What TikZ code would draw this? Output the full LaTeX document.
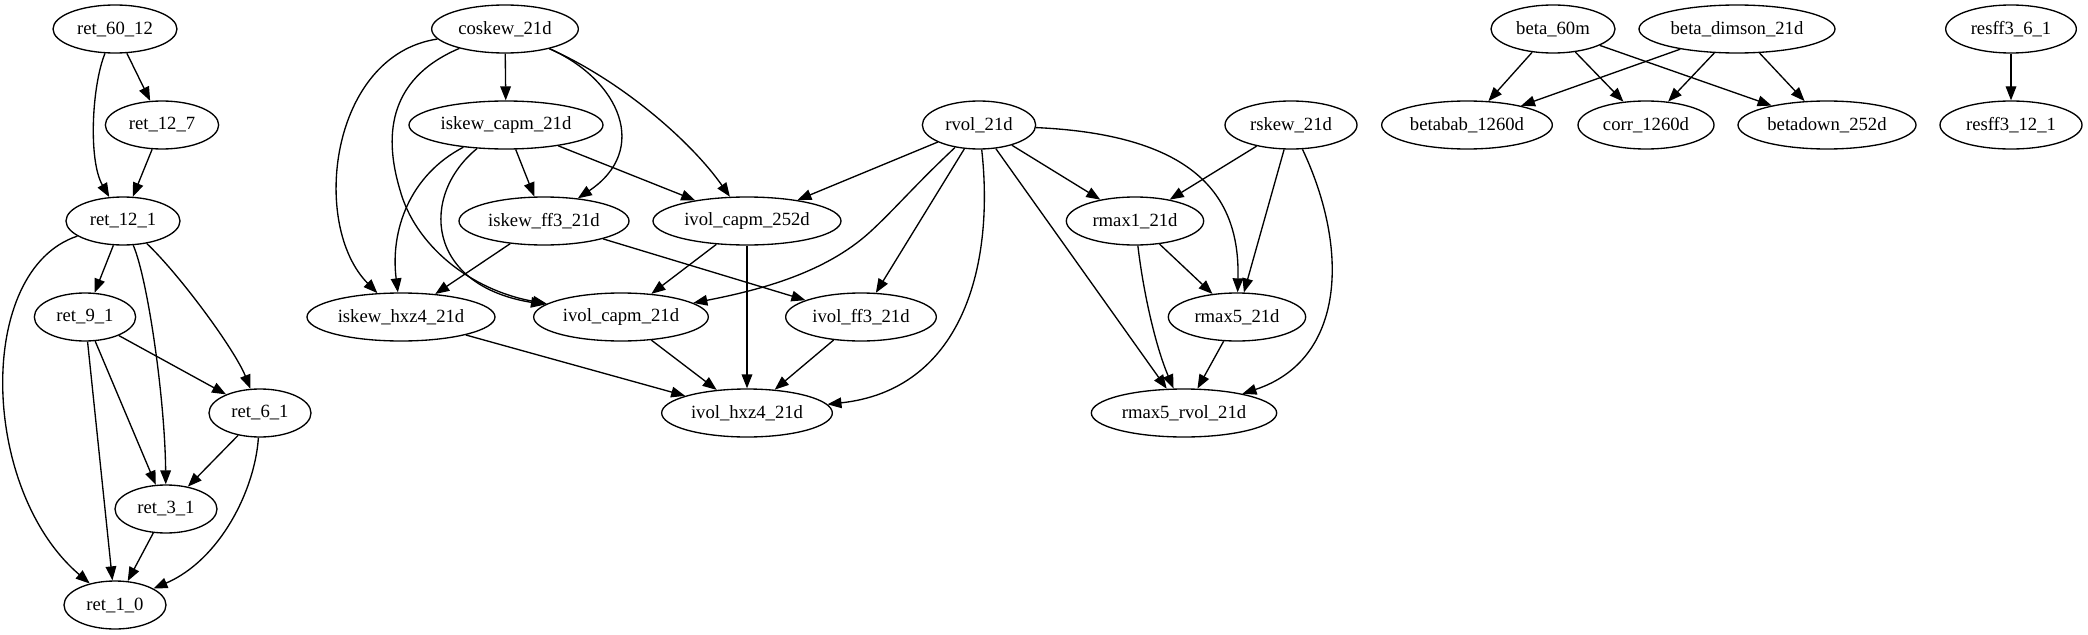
\documentclass[tikz,border=0pt]{standalone}
\usepackage{fontspec}
\setmainfont{Liberation Serif}
\usetikzlibrary{arrows.meta,shapes.geometric}
\begin{document}
\begin{tikzpicture}[x=0.75pt,y=-0.75pt,
  gv/.style={draw, ellipse, line width=1pt, minimum height=36pt, inner sep=0pt,
             font=\fontsize{14}{16}\selectfont},
  e/.style={line width=1pt, -{Triangle[length=10.5pt,width=8pt]}}]
\useasboundingbox (0,0) rectangle (2088,635);
% ---- left component
\node[gv,minimum width=93pt]   (r6012) at (115,29)  {\makebox[0pt]{ret\_60\_12}};
\node[gv,minimum width=85pt]   (r127)  at (162,125) {\makebox[0pt]{ret\_12\_7}};
\node[gv,minimum width=85.5pt] (r121)  at (123,221) {\makebox[0pt]{ret\_12\_1}};
\node[gv,minimum width=76pt]   (r91)   at (85,317)  {\makebox[0pt]{ret\_9\_1}};
\node[gv,minimum width=76.5pt] (r61)   at (260,413) {\makebox[0pt]{ret\_6\_1}};
\node[gv,minimum width=76.5pt] (r31)   at (166,509) {\makebox[0pt]{ret\_3\_1}};
\node[gv,minimum width=76.5pt] (r10)   at (115,605) {\makebox[0pt]{ret\_1\_0}};
% ---- main component
\node[gv,minimum width=110pt]   (cosk)   at (505,29)   {\makebox[0pt]{coskew\_21d}};
\node[gv,minimum width=145.5pt] (iscapm) at (506,125)  {\makebox[0pt]{iskew\_capm\_21d}};
\node[gv,minimum width=127.5pt] (isff3)  at (544,221)  {\makebox[0pt]{iskew\_ff3\_21d}};
\node[gv,minimum width=141pt]   (ivc252) at (747,221)  {\makebox[0pt]{ivol\_capm\_252d}};
\node[gv,minimum width=141pt]   (ishxz)  at (401,317)  {\makebox[0pt]{iskew\_hxz4\_21d}};
\node[gv,minimum width=131pt]   (ivc21)  at (621,317)  {\makebox[0pt]{ivol\_capm\_21d}};
\node[gv,minimum width=113pt]   (ivff3)  at (861,317)  {\makebox[0pt]{ivol\_ff3\_21d}};
\node[gv,minimum width=128pt]   (ivhxz)  at (747,413)  {\makebox[0pt]{ivol\_hxz4\_21d}};
\node[gv,minimum width=85pt]    (rvol)   at (979,125)  {\makebox[0pt]{rvol\_21d}};
\node[gv,minimum width=99pt]    (rskew)  at (1291,125) {\makebox[0pt]{rskew\_21d}};
\node[gv,minimum width=103pt]   (rmax1)  at (1135,221) {\makebox[0pt]{rmax1\_21d}};
\node[gv,minimum width=103pt]   (rmax5)  at (1237,317) {\makebox[0pt]{rmax5\_21d}};
\node[gv,minimum width=139pt]   (rmr)    at (1184,413) {\makebox[0pt]{rmax5\_rvol\_21d}};
% ---- beta component
\node[gv,minimum width=93pt]    (b60)    at (1553,29)  {\makebox[0pt]{beta\_60m}};
\node[gv,minimum width=147pt]   (bdim)   at (1737,29)  {\makebox[0pt]{beta\_dimson\_21d}};
\node[gv,minimum width=128pt]   (bbab)   at (1467,125) {\makebox[0pt]{betabab\_1260d}};
\node[gv,minimum width=102pt]   (corr)   at (1646,125) {\makebox[0pt]{corr\_1260d}};
\node[gv,minimum width=133.5pt] (bdown)  at (1827,125) {\makebox[0pt]{betadown\_252d}};
% ---- resff3 component
\node[gv,minimum width=98pt]    (rs61)   at (2011,29)  {\makebox[0pt]{resff3\_6\_1}};
\node[gv,minimum width=106.5pt] (rs121)  at (2011,125) {\makebox[0pt]{resff3\_12\_1}};

% ---- edges left
\draw[e] (r6012) -- (r127);
\draw[e] (r6012) .. controls (92,85) and (88,160) .. (r121);
\draw[e] (r127) -- (r121);
\draw[e] (r121) -- (r91);
\draw[e] (r121) .. controls (148,280) and (165,400) .. (r31);
\draw[e] (r121) .. controls (180,275) and (235,350) .. (r61);
\draw[e] (r121) .. controls (-25,270) and (-20,490) .. (r10);
\draw[e] (r91) -- (r61);
\draw[e] (r91) -- (r31);
\draw[e] (r91) -- (r10);
\draw[e] (r61) -- (r31);
\draw[e] (r61) .. controls (255,490) and (220,560) .. (r10);
\draw[e] (r31) -- (r10);
% ---- edges main
\draw[e] (cosk) -- (iscapm);
\draw[e] (cosk) .. controls (330,55) and (310,225) .. (ishxz);
\draw[e] (cosk) .. controls (385,80) and (385,140) .. (400,190) .. controls (415,245) and (470,290) .. (ivc21);
\draw[e] (cosk) .. controls (620,80) and (650,150) .. (isff3);
\draw[e] (cosk) .. controls (620,80) and (690,140) .. (ivc252);
\draw[e] (iscapm) .. controls (410,175) and (390,230) .. (ishxz);
\draw[e] (iscapm) .. controls (420,195) and (425,285) .. (ivc21);
\draw[e] (iscapm) -- (isff3);
\draw[e] (iscapm) -- (ivc252);
\draw[e] (isff3) -- (ishxz);
\draw[e] (isff3) -- (ivff3);
\draw[e] (ivc252) -- (ivc21);
\draw[e] (ivc252) -- (ivhxz);
\draw[e] (ishxz) -- (ivhxz);
\draw[e] (ivc21) -- (ivhxz);
\draw[e] (ivff3) -- (ivhxz);
\draw[e] (rvol) -- (ivc252);
\draw[e] (rvol) .. controls (915,185) and (895,209) .. (870,232) .. controls (825,273) and (760,290) .. (ivc21);
\draw[e] (rvol) -- (ivff3);
\draw[e] (rvol) .. controls (995,270) and (960,390) .. (ivhxz);
\draw[e] (rvol) -- (rmax1);
\draw[e] (rvol) .. controls (1200,135) and (1240,200) .. (rmax5);
\draw[e] (rvol) -- (rmr);
\draw[e] (rskew) -- (rmax1);
\draw[e] (rskew) -- (rmax5);
\draw[e] (rskew) .. controls (1350,250) and (1345,360) .. (rmr);
\draw[e] (rmax1) -- (rmax5);
\draw[e] (rmax1) .. controls (1143,290) and (1155,345) .. (rmr);
\draw[e] (rmax5) -- (rmr);
% ---- edges beta
\draw[e] (b60) -- (bbab);
\draw[e] (b60) -- (corr);
\draw[e] (b60) -- (bdown);
\draw[e] (bdim) -- (bbab);
\draw[e] (bdim) -- (corr);
\draw[e] (bdim) -- (bdown);
\draw[e] (rs61) -- (rs121);
\end{tikzpicture}
\end{document}
